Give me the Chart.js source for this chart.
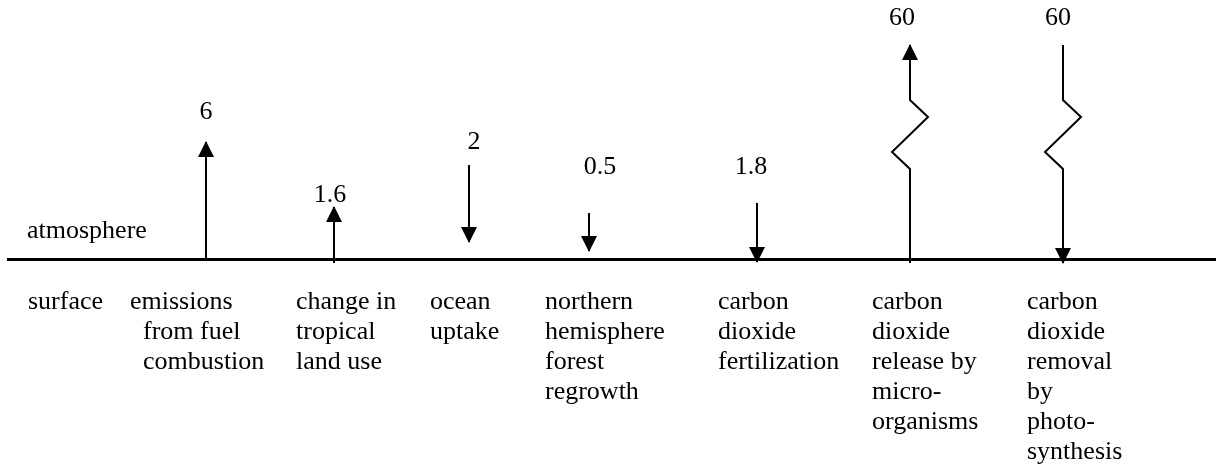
<!DOCTYPE html>
<html>
<head>
<meta charset="utf-8">
<script src="https://cdn.jsdelivr.net/npm/chart.js@4.4.1/dist/chart.umd.min.js"></script>
<style>
  html, body { margin: 0; padding: 0; background: #fff; }
  #wrap { width: 1216px; height: 468px; position: relative; }
</style>
</head>
<body>
<div id="wrap"><canvas id="myChart"></canvas></div>
<script>
//----------------values----------------
// label blocks under the surface line (leading spaces keep the indent of the original)
const categories = [
  ["surface"],
  ["emissions", "  from fuel", "  combustion"],
  ["change in", "tropical", "land use"],
  ["ocean", "uptake"],
  ["northern", "hemisphere", "forest", "regrowth"],
  ["carbon", "dioxide", "fertilization"],
  ["carbon", "dioxide", "release by", "micro-", "organisms"],
  ["carbon", "dioxide", "removal", "by", "photo-", "synthesis"]
];
const labelX = [28, 130, 296, 430, 545, 718, 872, 1027]; // left edge of each block

// carbon flows (values printed above the arrows)
const flowValues = [6, 1.6, 2, 0.5, 1.8, 60, 60];
const flowDirection = ["up", "up", "down", "down", "down", "up", "down"];
const flowX = [206, 334, 469, 589, 757, 910, 1063];

// drawn arrow extent, as height above the surface line (schematic, not to scale)
const arrowLow = [0, -4, 17, 8, -3, -4, -4];
const arrowHigh = [117, 52, 94, 46, 56, 214, 214];
const breakAt = [null, null, null, null, null, 90, 90]; // zigzag = axis break
const valueX = [206, 330, 474, 600, 751, 902, 1058];
const valueY = [147, 64, 117, 92, 92, 241, 241];

const layerName = "atmosphere";

//----------------build the arrow datasets----------------
const ZIG = 18; // half width of the break zigzag

const arrowDatasets = flowValues.map((v, i) => {
  const x = flowX[i];
  let pts = [{ x: x, y: arrowLow[i] }];
  if (breakAt[i] !== null) {
    const b = breakAt[i];
    pts.push({ x: x, y: b }, { x: x - ZIG, y: b + 17 }, { x: x + ZIG, y: b + 52 }, { x: x, y: b + 69 });
  }
  pts.push({ x: x, y: arrowHigh[i] });
  if (flowDirection[i] === "down") pts.reverse(); // tip is always the last point
  return {
    label: categories[i + 1].join(" ").trim() + " (" + v + ")",
    data: pts,
    borderColor: "#000",
    borderWidth: 2,
    borderCapStyle: "butt",
    pointRadius: 0,
    tension: 0,
    fill: false,
    clip: false
  };
});

//----------------plugins----------------
// arrowhead on the last point of every dataset
const arrowHeads = {
  id: "arrowHeads",
  afterDatasetsDraw(chart) {
    const ctx = chart.ctx;
    chart.data.datasets.forEach((ds, i) => {
      const pts = chart.getDatasetMeta(i).data;
      const tip = pts[pts.length - 1];
      const prev = pts[pts.length - 2];
      const ang = Math.atan2(tip.y - prev.y, tip.x - prev.x);
      ctx.save();
      ctx.translate(tip.x, tip.y);
      ctx.rotate(ang);
      ctx.beginPath();
      ctx.moveTo(1, 0);
      ctx.lineTo(-15, -8);
      ctx.lineTo(-15, 8);
      ctx.closePath();
      ctx.fillStyle = "#000";
      ctx.fill();
      ctx.restore();
    });
  }
};

// flow values and the layer name
const textLabels = {
  id: "textLabels",
  afterDraw(chart) {
    const { ctx, scales: { x, y } } = chart;
    ctx.save();
    ctx.font = '26px "Liberation Serif"';
    ctx.fillStyle = "#000";
    ctx.textBaseline = "middle";
    ctx.textAlign = "center";
    flowValues.forEach((v, i) => {
      ctx.fillText(String(v), x.getPixelForValue(valueX[i]), y.getPixelForValue(valueY[i]));
    });
    ctx.textAlign = "left";
    ctx.fillText(layerName, x.getPixelForValue(27), y.getPixelForValue(28));
    ctx.restore();
  }
};

//----------------chart----------------
const config = {
  type: "line",
  data: { datasets: arrowDatasets },
  options: {
    responsive: true,
    maintainAspectRatio: false,
    animation: false,
    layout: { padding: { left: 8, right: 1, top: 0, bottom: 0 } },
    plugins: {
      legend: { display: false },
      tooltip: { enabled: false }
    },
    scales: {
      x: {
        type: "linear",
        position: "bottom",
        min: 8,
        max: 1215,
        afterBuildTicks: (scale) => {
          scale.ticks = labelX.map((v) => ({ value: v }));
        },
        afterFit: (scale) => {
          scale.height = 209;
          // labels fit inside the area, no extra side padding wanted
          scale.paddingLeft = 0;
          scale.paddingRight = 0;
        },
        grid: { display: false, drawTicks: false },
        border: { display: true, color: "#000", width: 3 },
        ticks: {
          align: "start",
          padding: 28,
          autoSkip: false,
          maxRotation: 0,
          minRotation: 0,
          color: "#000",
          font: { family: "Liberation Serif", size: 26, lineHeight: 30 / 26 },
          callback: (value, index) => categories[index]
        }
      },
      y: {
        type: "linear",
        display: false,
        min: 0,
        max: 259
      }
    }
  },
  plugins: [arrowHeads, textLabels]
};

const myChart = new Chart(document.getElementById("myChart"), config);
</script>
</body>
</html>
